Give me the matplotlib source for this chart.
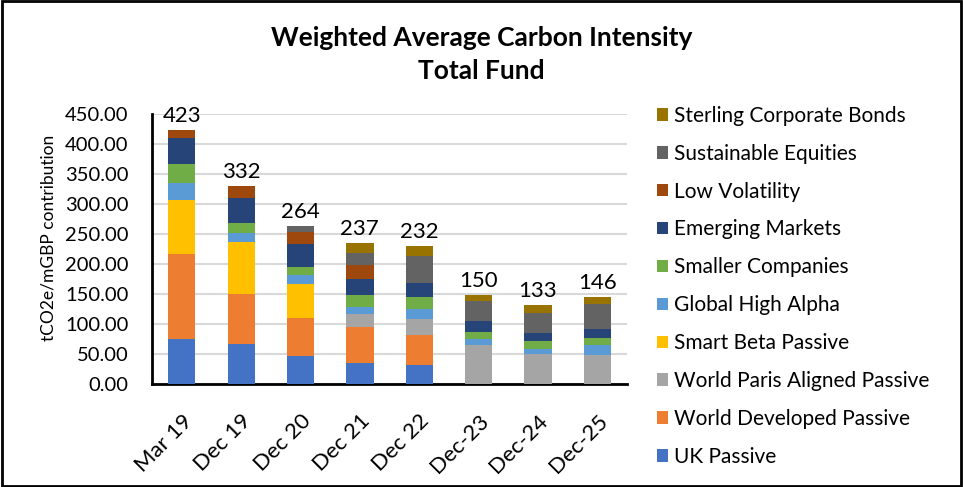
import matplotlib
matplotlib.use("Agg")
import matplotlib.pyplot as plt
import numpy as np

categories = ["Mar 19", "Dec 19", "Dec 20", "Dec 21", "Dec 22", "Dec-23", "Dec-24", "Dec-25"]
totals = [423, 332, 264, 237, 232, 150, 133, 146]

uk_passive = [75.5, 67.1, 47.2, 36.1, 31.7, 0, 0, 0]
world_developed = [141.5, 83.3, 63.2, 58.9, 51.1, 0, 0, 0]
world_paris = [0, 0, 0, 22.8, 26.6, 66.1, 51.1, 49.4]
smart_beta = [89.9, 86.6, 56.6, 0, 0, 0, 0, 0]
global_high_alpha = [28.3, 14.4, 14.5, 11.6, 16.7, 9.5, 8.3, 15.6]
smaller_companies = [31.6, 17.2, 13.8, 20.0, 20.0, 12.2, 13.3, 12.8]
emerging_markets = [43.2, 42.2, 38.3, 26.7, 22.7, 18.3, 13.4, 15.0]
low_volatility = [13.4, 19.4, 20.0, 22.2, 0, 0, 0, 0]
sustainable_equities = [0, 0, 10.0, 21.1, 45.6, 32.2, 33.3, 41.6]
sterling_bonds = [0, 0, 0, 16.7, 16.1, 11.1, 13.4, 11.7]

series = [
    ("UK Passive", uk_passive, "#4472C4"),
    ("World Developed Passive", world_developed, "#ED7D31"),
    ("World Paris Aligned Passive", world_paris, "#A5A5A5"),
    ("Smart Beta Passive", smart_beta, "#FFC000"),
    ("Global High Alpha", global_high_alpha, "#5B9BD5"),
    ("Smaller Companies", smaller_companies, "#70AD47"),
    ("Emerging Markets", emerging_markets, "#264478"),
    ("Low Volatility", low_volatility, "#9E480E"),
    ("Sustainable Equities", sustainable_equities, "#636363"),
    ("Sterling Corporate Bonds", sterling_bonds, "#997300"),
]

plt.rcParams['font.family'] = ['Lato', 'DejaVu Sans']

fig = plt.figure(figsize=(9.63, 4.87), dpi=100)
ax = fig.add_axes([0.158, 0.2105, 0.493, 0.5555])

x = np.arange(len(categories))
bottom = np.zeros(len(categories))
handles = []
for name, vals, color in series:
    v = np.array(vals, dtype=float)
    b = ax.bar(x, v, bottom=bottom, width=0.46, color=color, label=name, zorder=3)
    handles.append(b)
    bottom += v

for xi, top, lab in zip(x, bottom, totals):
    ax.text(xi, top + 6, str(lab), ha='center', va='bottom', fontsize=16, zorder=4)

ax.set_xlim(-0.5, len(categories) - 0.5)
ax.set_ylim(0, 450)
ax.set_yticks(np.arange(0, 451, 50))
ax.set_yticklabels([f"{v:.2f}" for v in np.arange(0, 451, 50)], fontsize=14.5)
ax.set_xticks(x)
ax.set_xticklabels(categories, rotation=45, ha='right', rotation_mode='anchor', fontsize=16)
ax.tick_params(axis='y', length=0, pad=17)
ax.tick_params(axis='x', length=0, pad=19)
ax.grid(axis='y', color='#D9D9D9', linewidth=1.5, zorder=0)
ax.spines['top'].set_visible(False)
ax.spines['right'].set_visible(False)
for s in ['left', 'bottom']:
    ax.spines[s].set_linewidth(2)
    ax.spines[s].set_color('black')
ax.set_ylabel("tCO2e/mGBP contribution", fontsize=12.5)
ax.yaxis.label.set_va('center')
ax.yaxis.set_label_coords(-0.219, 0.542)

fig.text(0.5, 0.947, "Weighted Average Carbon Intensity\nTotal Fund", ha='center', va='top',
         fontsize=19, fontweight='bold', linespacing=1.45)

leg = fig.legend(handles[::-1], [s[0] for s in series][::-1], loc='upper left',
                 bbox_to_anchor=(0.682, 0.783), frameon=False, fontsize=15,
                 handlelength=0.55, handleheight=0.55, handletextpad=0.27, labelspacing=0.86,
                 borderpad=0, borderaxespad=0)

border = plt.Rectangle((0.002, 0.003), 0.996, 0.994, transform=fig.transFigure, fill=False,
                       edgecolor='black', linewidth=2)
fig.patches.append(border)

fig.savefig("out.png", dpi=100)
